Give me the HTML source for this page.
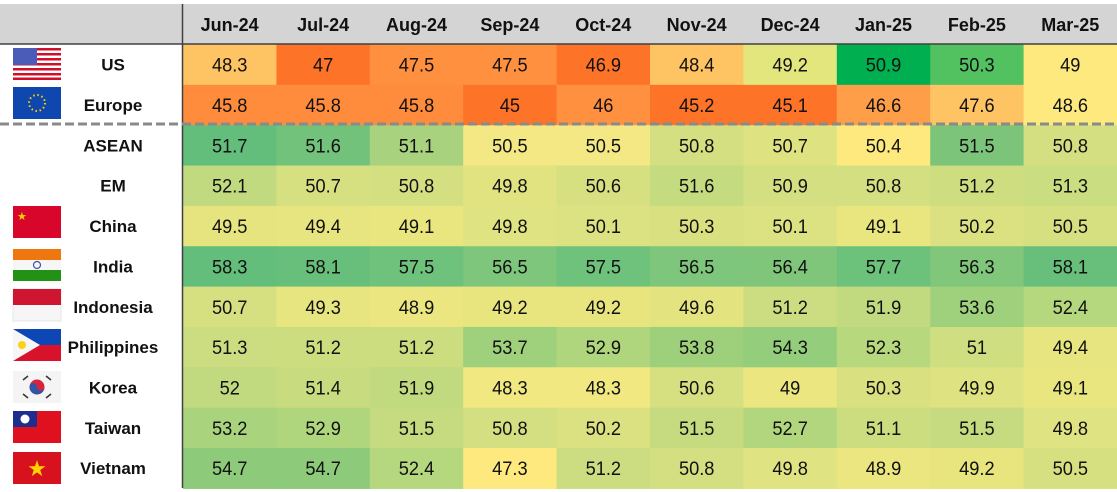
<!DOCTYPE html>
<html><head><meta charset="utf-8"><style>
html,body{margin:0;padding:0;background:#fff;}
svg{display:block;font-family:"Liberation Sans",Arial,sans-serif;}
</style></head><body>
<svg id="s" width="1117" height="492" viewBox="0 0 1117 492" xmlns="http://www.w3.org/2000/svg">
<rect x="0" y="4" width="1117" height="40" fill="#d4d4d4"/>
<g id="cells"></g>
<line x1="0" y1="44" x2="1117" y2="44" stroke="#404040" stroke-width="1.5"/>
<line x1="182.5" y1="4" x2="182.5" y2="488" stroke="#404040" stroke-width="1.5"/>
<line x1="0" y1="124" x2="1117" y2="124" stroke="#8a8a8a" stroke-width="3" stroke-dasharray="9,4"/>
<g id="flags">
<g transform="translate(13,48)">
<rect width="48" height="32" fill="#fff"/>
<g fill="#d0102a"><rect y="0" width="48" height="2.5"/><rect y="5" width="48" height="2.5"/><rect y="10" width="48" height="2.5"/><rect y="15" width="48" height="2.5"/><rect y="20" width="48" height="2.5"/><rect y="25" width="48" height="2.5"/><rect y="29.5" width="48" height="2.5"/></g>
<rect width="24" height="17" fill="#4a5bb8"/>
</g>
<g transform="translate(13,87)"><rect width="48" height="32" fill="#0e47ad"/><circle cx="24" cy="16" r="8" fill="none" stroke="#ffd200" stroke-width="2" stroke-dasharray="1.5,2.7"/></g>
<g transform="translate(13,206)"><rect width="48" height="32" fill="#d9062c"/><text x="4" y="14" font-size="11" fill="#ffd200">★</text></g>
<g transform="translate(13,249)"><rect width="48" height="11" fill="#ee7710"/><rect y="11" width="48" height="10" fill="#f6f6f6"/><rect y="21" width="48" height="11" fill="#239016"/><circle cx="24" cy="16" r="3.5" fill="none" stroke="#3d55a8" stroke-width="1.2"/></g>
<g transform="translate(13,289)"><rect width="48" height="32" fill="#f6f6f6" stroke="#e6e6e6"/><rect width="48" height="16" fill="#cf1530"/></g>
<g transform="translate(13,329)"><rect width="48" height="16" fill="#0d47b5"/><rect y="16" width="48" height="16" fill="#d9122c"/><polygon points="0,0 27,16 0,32" fill="#f6f6f6"/><circle cx="9" cy="16" r="4" fill="#fcd116"/></g>
<g transform="translate(13,371)"><rect width="48" height="32" fill="#f4f4f4"/><circle cx="24" cy="16" r="7.5" fill="#d6253a"/><path d="M16.5,16 a7.5,7.5 0 0 0 15,0 a3.75,3.75 0 0 1 -7.5,0 a3.75,3.75 0 0 0 -7.5,0z" fill="#2d56a8"/><g stroke="#333" stroke-width="1.5"><line x1="10" y1="9" x2="15" y2="5"/><line x1="33" y1="5" x2="38" y2="9"/><line x1="10" y1="23" x2="15" y2="27"/><line x1="33" y1="27" x2="38" y2="23"/></g></g>
<g transform="translate(13,411)"><rect width="48" height="32" fill="#e0111f"/><rect width="24" height="16" fill="#1e2e8e"/><circle cx="12" cy="8" r="4.5" fill="#fff"/></g>
<g transform="translate(13,452)"><rect width="48" height="32" fill="#d8111f"/><text x="24" y="24" font-size="22" fill="#ffd200" text-anchor="middle">★</text></g>
</g>
<g id="labels" font-weight="bold" font-size="17" text-anchor="middle" fill="#111"></g>
</svg>
<script>
var months=["Jun-24","Jul-24","Aug-24","Sep-24","Oct-24","Nov-24","Dec-24","Jan-25","Feb-25","Mar-25"];
var names=["US","Europe","ASEAN","EM","China","India","Indonesia","Philippines","Korea","Taiwan","Vietnam"];
var vals=[
["48.3","47","47.5","47.5","46.9","48.4","49.2","50.9","50.3","49"],
["45.8","45.8","45.8","45","46","45.2","45.1","46.6","47.6","48.6"],
["51.7","51.6","51.1","50.5","50.5","50.8","50.7","50.4","51.5","50.8"],
["52.1","50.7","50.8","49.8","50.6","51.6","50.9","50.8","51.2","51.3"],
["49.5","49.4","49.1","49.8","50.1","50.3","50.1","49.1","50.2","50.5"],
["58.3","58.1","57.5","56.5","57.5","56.5","56.4","57.7","56.3","58.1"],
["50.7","49.3","48.9","49.2","49.2","49.6","51.2","51.9","53.6","52.4"],
["51.3","51.2","51.2","53.7","52.9","53.8","54.3","52.3","51","49.4"],
["52","51.4","51.9","48.3","48.3","50.6","49","50.3","49.9","49.1"],
["53.2","52.9","51.5","50.8","50.2","51.5","52.7","51.1","51.5","49.8"],
["54.7","54.7","52.4","47.3","51.2","50.8","49.8","48.9","49.2","50.5"]];
var cols=[
["#fec362","#fd7428","#fe9040","#fe9040","#fd7428","#fec362","#e3e57d","#00b050","#52c15f","#fee97f"],
["#fe8c3c","#fe8c3c","#fe8c3c","#fd7428","#fe9040","#fd7428","#fd7428","#fe9e48","#fec362","#fee97f"],
["#63bd7b","#72c27b","#a8d27d","#f3e883","#f3e883","#d3df80","#dfe281","#fee97f","#7cc47a","#d3df80"],
["#c2da7f","#d6e080","#d3df80","#e1e381","#d6e080","#c5db7f","#d3df80","#d3df80","#cddd80","#cadd80"],
["#e5e47f","#e6e57f","#e9e67f","#e0e381","#dce181","#d8e080","#dce181","#e9e67f","#dbe181","#d6e080"],
["#63bd7b","#67bf7b","#6fc27b","#7ec67b","#6fc27b","#7ec67b","#7fc67b","#6cc17b","#80c67b","#67bf7b"],
["#d6e080","#e7e57f","#ebe67f","#e8e57f","#e8e57f","#e3e47f","#cbdd80","#c1da7f","#9fd07b","#b5d77e"],
["#cbdd80","#ccdd80","#ccdd80","#9fd07b","#afd57d","#9ed07b","#94cd7b","#b8d87e","#cfde80","#e6e57f"],
["#c2da7f","#c8dc7f","#c2da7f","#f2e882","#f2e882","#d6e080","#ebe67f","#d8e080","#dfe281","#e9e67f"],
["#aad37d","#afd57d","#c6db7f","#d3df80","#dbe181","#c6db7f","#b2d67d","#ccdd80","#c6db7f","#e0e381"],
["#8dcb7b","#8dcb7b","#b5d77e","#fee97f","#cbdd80","#d3df80","#e0e381","#ebe67f","#e8e57f","#d6e080"]];
var NS="http://www.w3.org/2000/svg";
function el(t,a,p,txt){var e=document.createElementNS(NS,t);for(var k in a)e.setAttribute(k,a[k]);if(txt!=null)e.textContent=txt;p.appendChild(e);return e;}
var g=document.getElementById("cells"),L=document.getElementById("labels");
var x0=183,cw=93.4,y0=44.5,rh=40.35;
for(var j=0;j<10;j++){var cx=x0+cw*j+cw/2;
 el("text",{x:cx,y:31,"font-size":"18","font-weight":"bold","text-anchor":"middle",fill:"#111"},g,months[j]);}
for(var i=0;i<11;i++){var y=y0+rh*i;
 for(var j=0;j<10;j++){var x=x0+cw*j;
  el("rect",{x:x,y:y,width:cw+0.6,height:rh+0.6,fill:cols[i][j]},g);
  var cx=x+cw/2;
  el("text",{transform:"translate("+cx+","+(y+rh/2+7)+") scale(0.96,1)","font-size":"19","text-anchor":"middle",fill:"#111"},g,vals[i][j]);}
 el("text",{x:113,y:y+rh/2+6},L,names[i]);}
</script>
</body></html>
